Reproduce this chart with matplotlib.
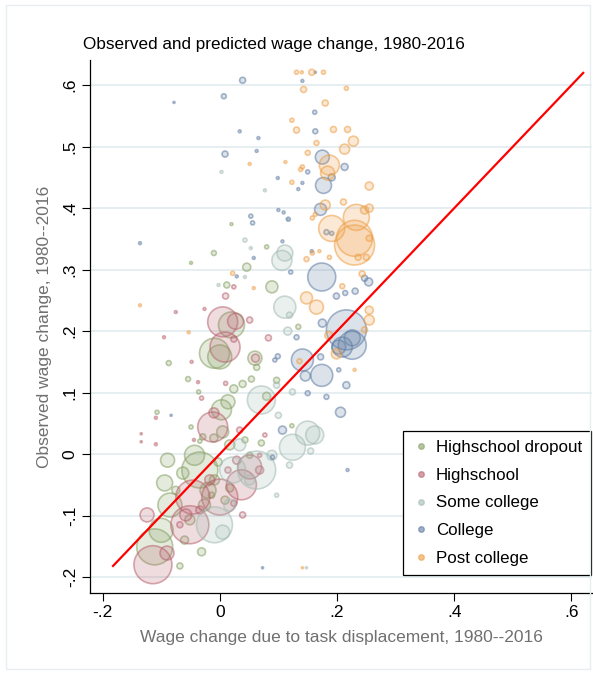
import matplotlib
matplotlib.use("Agg")
import matplotlib.pyplot as plt
from matplotlib.lines import Line2D
from matplotlib.patches import Rectangle
import numpy as np

plt.rcParams['font.family'] = ['Liberation Sans', 'DejaVu Sans']

# ---------------- data ----------------
groups = ["Highschool dropout", "Highschool", "Some college", "College", "Post college"]

dropout_x = [-0.111, -0.100, -0.034, -0.085, -0.094, -0.089, -0.063, -0.031, -0.068, 0.020,
             -0.009, 0.000, 0.060, 0.080, 0.089, 0.014, 0.046, 0.012, 0.003, -0.010,
             -0.049, 0.020, 0.080, -0.087, -0.054, -0.036, 0.024, 0.039, 0.054, 0.005,
             -0.010, -0.107, -0.049, -0.034, 0.123, 0.134, 0.097, 0.063, -0.043, -0.020,
             -0.009, -0.026, -0.051, 0.017, 0.009, -0.014, -0.003, -0.029, 0.043, -0.075,
             -0.060, 0.051, 0.071, 0.017]
dropout_y = [-0.151, -0.124, -0.026, -0.083, -0.047, -0.010, -0.031, -0.159, -0.182, 0.210,
             0.164, 0.158, 0.156, 0.094, 0.272, 0.085, 0.304, 0.275, 0.072, 0.327,
             0.311, 0.374, 0.337, 0.148, 0.122, 0.101, 0.106, 0.114, 0.122, 0.036,
             0.026, 0.068, 0.044, 0.021, 0.046, 0.207, 0.120, 0.141, -0.002, -0.059,
             -0.042, -0.083, -0.107, -0.055, -0.075, -0.067, -0.013, 0.028, 0.023, -0.059,
             -0.140, -0.002, 0.018, 0.015]
dropout_w = [324, 144, 324, 144, 64, 49, 36, 16, 9, 169,
             225, 144, 49, 16, 36, 49, 16, 9, 100, 6,
             2, 2, 4, 6, 6, 4, 16, 12, 9, 36,
             16, 4, 4, 4, 4, 6, 9, 9, 100, 64,
             25, 36, 25, 16, 16, 9, 16, 9, 9, 16,
             16, 9, 9, 25]

hs_x = [-0.114, -0.051, -0.046, 0.000, 0.037, 0.051, -0.124, -0.090, -0.012, 0.005,
        0.027, 0.009, 0.010, 0.051, 0.083, 0.061, 0.024, -0.075, -0.095, -0.026,
        -0.048, -0.037, -0.031, 0.010, 0.024, -0.010, -0.109, -0.044, -0.134, -0.134,
        -0.109, 0.068, -0.017, -0.034, 0.014, 0.029, 0.068, 0.039, 0.034, 0.077,
        -0.058, -0.068, 0.024]
hs_y = [-0.180, -0.115, -0.070, -0.070, -0.050, -0.021, -0.099, -0.161, 0.044, 0.215,
        0.216, 0.174, 0.257, 0.218, 0.189, 0.156, 0.272, 0.231, 0.190, 0.236,
        0.150, 0.117, 0.091, 0.115, 0.187, 0.067, 0.059, 0.023, 0.033, 0.020,
        0.016, -0.002, -0.042, -0.091, -0.026, -0.010, -0.026, -0.099, 0.039, 0.031,
        -0.099, -0.115, -0.080]
hs_w = [361, 361, 289, 324, 225, 144, 49, 49, 225, 225,
        64, 225, 9, 9, 9, 16, 4, 2, 2, 2,
        2, 2, 4, 4, 9, 25, 2, 2, 1, 1,
        2, 4, 25, 16, 9, 16, 16, 9, 9, 4,
        36, 9, 9]

sc_x = [-0.009, 0.005, 0.063, 0.022, 0.124, 0.150, 0.162, 0.071, 0.111, 0.106,
        0.111, 0.116, 0.119, 0.097, 0.124, 0.100, 0.097, 0.119, 0.155, 0.043,
        0.053, 0.003, 0.077, 0.043, -0.002, 0.116, 0.034, 0.051, 0.089, 0.017,
        0.148]
sc_y = [-0.115, -0.127, -0.026, -0.026, 0.011, 0.034, 0.031, 0.088, 0.239, 0.315,
        0.327, 0.200, 0.226, 0.112, 0.101, 0.063, -0.067, -0.018, 0.005, 0.348,
        0.335, 0.459, 0.429, 0.288, 0.275, 0.382, 0.015, -0.042, -0.002, -0.083,
        -0.185]
sc_w = [324, 49, 361, 169, 169, 144, 81, 196, 121, 100,
        64, 16, 9, 9, 9, 9, 4, 9, 9, 4,
        2, 2, 2, 2, 2, 1, 36, 25, 25, 36,
        1]

col_x = [0.216, 0.226, 0.209, 0.226, 0.203, 0.174, 0.141, 0.174, 0.206, 0.216,
         0.146, 0.175, 0.254, 0.247, 0.231, 0.199, 0.214, 0.121, 0.131, 0.099,
         0.094, 0.172, 0.203, 0.150, 0.182, 0.107, 0.090, 0.218, 0.073, 0.175,
         0.177, 0.172, 0.191, 0.213, 0.163, 0.162, 0.141, 0.039, 0.007, -0.078,
         0.034, 0.066, 0.063, 0.009, 0.099, 0.134, 0.141, 0.150, 0.053, 0.056,
         0.117, 0.100, 0.109, 0.182, 0.191, 0.157, 0.107, -0.136, 0.029, 0.058,
         0.163, -0.083]
col_y = [0.202, 0.177, 0.174, 0.189, 0.174, 0.288, 0.153, 0.128, 0.068, 0.112,
         0.127, 0.213, 0.280, 0.286, 0.265, 0.257, 0.262, 0.296, 0.190, 0.159,
         0.153, 0.158, 0.137, 0.099, 0.093, 0.039, -0.005, -0.026, -0.185, 0.483,
         0.437, 0.398, 0.450, 0.467, 0.525, 0.556, 0.607, 0.608, 0.582, 0.572,
         0.525, 0.514, 0.493, 0.488, 0.449, 0.431, 0.441, 0.459, 0.387, 0.376,
         0.382, 0.397, 0.393, 0.361, 0.359, 0.330, 0.346, 0.343, 0.289, 0.319,
         0.621, 0.063]
col_w = [400, 196, 100, 64, 49, 196, 121, 121, 25, 12,
         25, 16, 16, 9, 9, 9, 6, 4, 6, 6,
         4, 9, 4, 6, 6, 16, 4, 2, 1, 49,
         64, 36, 12, 12, 6, 4, 2, 9, 6, 1,
         2, 2, 2, 9, 2, 2, 2, 4, 4, 4,
         4, 2, 2, 6, 4, 2, 2, 2, 2, 2,
         1, 1]

pc_x = [0.230, 0.230, 0.191, 0.233, 0.255, 0.247, 0.255, 0.211, 0.180, 0.187,
        0.184, 0.213, 0.228, 0.218, 0.194, 0.131, 0.180, 0.143, 0.216, 0.131,
        0.140, 0.157, 0.177, 0.123, 0.165, 0.150, 0.112, 0.051, 0.123, 0.141,
        0.138, 0.163, 0.158, 0.165, 0.148, 0.255, 0.255, 0.199, 0.186, 0.243,
        0.209, 0.230, 0.136, 0.148, 0.022, 0.058, -0.136, -0.053, 0.170, 0.187,
        0.247, 0.141, 0.158, 0.255, 0.250, 0.236]
pc_y = [0.340, 0.351, 0.367, 0.385, 0.400, 0.397, 0.436, 0.410, 0.405, 0.470,
        0.457, 0.496, 0.509, 0.528, 0.528, 0.527, 0.571, 0.593, 0.595, 0.621,
        0.621, 0.621, 0.621, 0.543, 0.506, 0.490, 0.475, 0.472, 0.442, 0.467,
        0.463, 0.390, 0.384, 0.239, 0.254, 0.218, 0.234, 0.163, 0.193, 0.293,
        0.273, 0.137, 0.151, 0.317, 0.294, 0.270, 0.242, 0.198, 0.330, 0.320,
        0.202, -0.185, 0.327, 0.351, 0.320, 0.320]
pc_w = [400, 324, 169, 169, 16, 16, 16, 9, 25, 100,
        49, 25, 25, 9, 9, 9, 9, 9, 4, 4,
        2, 9, 4, 4, 6, 6, 2, 2, 4, 4,
        4, 4, 4, 49, 36, 25, 16, 25, 16, 9,
        6, 2, 6, 6, 4, 2, 2, 2, 2, 4,
        9, 1, 4, 9, 9, 9]

diag = [-0.182, 0.62]

xticks = [-0.2, 0, 0.2, 0.4, 0.6]
xticklabels = ["-.2", "0", ".2", ".4", ".6"]
yticks = [-0.2, -0.1, 0, 0.1, 0.2, 0.3, 0.4, 0.5, 0.6]
yticklabels = ["-.2", "-.1", "0", ".1", ".2", ".3", ".4", ".5", ".6"]

# ---------------- style ----------------
colors = ["#86a063", "#b8626e", "#a3bbb2", "#5f7ca3", "#ee9e45"]
SCALE = 2.07  # px^2 -> pt^2 at 100 dpi

fig = plt.figure(figsize=(5.93, 6.74), dpi=100)
fig.patch.set_facecolor("white")
fig.add_artist(Rectangle((0.010, 0.008), 0.985, 0.984, transform=fig.transFigure,
                         fill=False, edgecolor="#e6eef0", lw=1.0))
ax = fig.add_axes([0.1518, 0.1202, 0.8465, 0.7908])

series = [(dropout_x, dropout_y, dropout_w), (hs_x, hs_y, hs_w), (sc_x, sc_y, sc_w),
          (col_x, col_y, col_w), (pc_x, pc_y, pc_w)]
for (xs, ys, ws), c in zip(series, colors):
    xs = np.asarray(xs); ys = np.asarray(ys); ws = np.asarray(ws, float)
    rgba = matplotlib.colors.to_rgba(c)
    face = (*rgba[:3], 0.22)
    edge = (*rgba[:3], 0.55)
    ax.scatter(xs, ys, s=ws * SCALE, facecolors=[face], edgecolors=[edge],
               linewidths=1.2, zorder=2)

ax.plot(diag, diag, color="red", lw=1.6, zorder=4)

ax.set_xlim(-0.2213, 0.635)
ax.set_ylim(-0.226, 0.641)
ax.set_xticks(xticks)
ax.set_xticklabels(xticklabels)
ax.set_yticks(yticks)
ax.set_yticklabels(yticklabels, rotation=90, va="center")
ax.tick_params(axis="both", direction="out", length=5.8, width=0.8, labelsize=12.5,
               color="black", labelcolor="black", pad=3)
ax.grid(axis="y", color="#e4edf0", lw=1.3, zorder=0)
ax.set_axisbelow(True)
for s in ["top", "right"]:
    ax.spines[s].set_visible(False)
for s in ["left", "bottom"]:
    ax.spines[s].set_linewidth(0.9)
    ax.spines[s].set_color("black")

ax.set_xlabel("Wage change due to task displacement, 1980--2016", fontsize=12.5,
              color="#707070", labelpad=7)
ax.set_ylabel("Observed wage change, 1980--2016", fontsize=12.5, color="#707070",
              labelpad=8)
fig.text(0.140, 0.928, "Observed and predicted wage change, 1980-2016", fontsize=12.3,
         color="black", ha="left", va="baseline")

handles = [Line2D([0], [0], marker="o", linestyle="none", markersize=4,
                  markerfacecolor=matplotlib.colors.to_rgba(c, 0.6),
                  markeredgecolor=matplotlib.colors.to_rgba(c, 0.6)) for c in colors]
leg = ax.legend(handles, groups, loc="lower right", bbox_to_anchor=(0.9985, 0.034),
                fontsize=12.2, frameon=True, fancybox=False, framealpha=1,
                edgecolor="black", handletextpad=0.3, labelspacing=0.74,
                borderpad=0.55, handlelength=1.1, borderaxespad=0)
leg.get_frame().set_linewidth(0.9)

fig.savefig("out.png", dpi=100, facecolor="white")
